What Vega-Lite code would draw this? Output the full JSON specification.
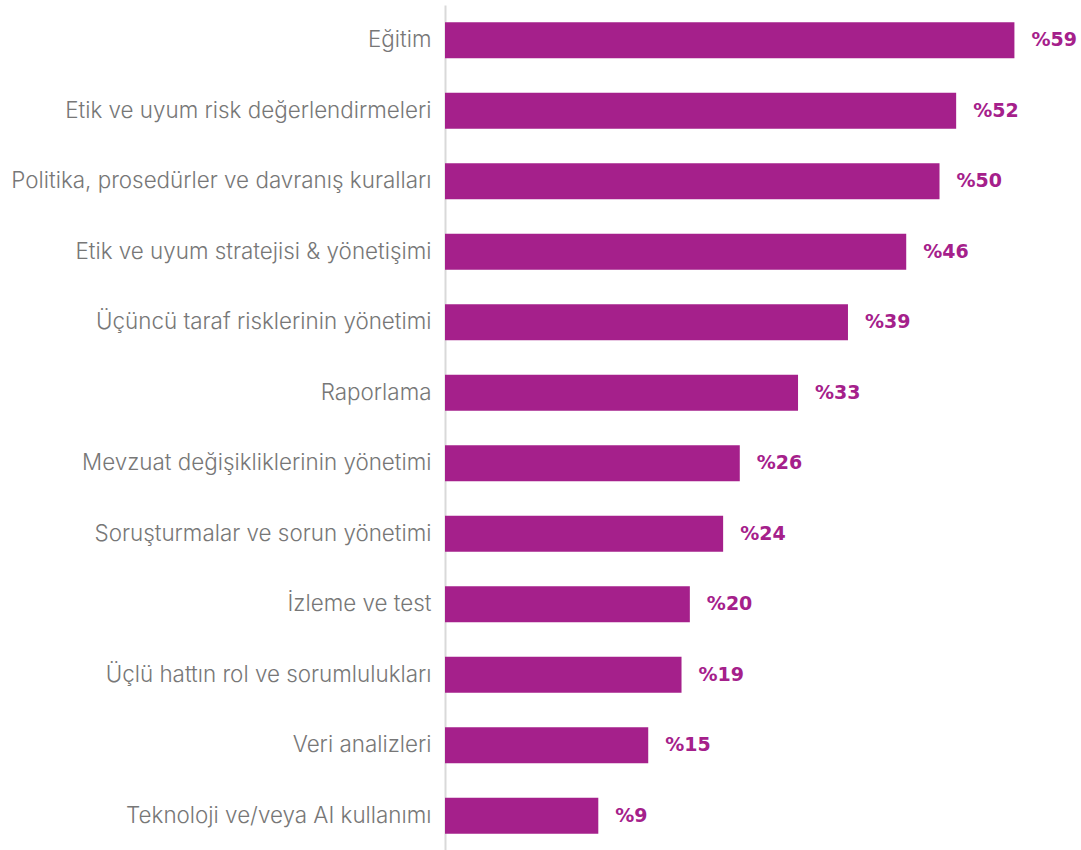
{
  "$schema": "https://vega.github.io/schema/vega-lite/v6.json",
  "width": 636,
  "height": 846,
  "autosize": "none",
  "padding": {"left": 445, "top": 5, "right": 0, "bottom": 0},
  "background": "white",
  "config": {"view": {"stroke": null}},
  "data": {
    "values": [
      {"kategori": "Eğitim", "oran": 59},
      {"kategori": "Etik ve uyum risk değerlendirmeleri", "oran": 52},
      {"kategori": "Politika, prosedürler ve davranış kuralları", "oran": 50},
      {"kategori": "Etik ve uyum stratejisi & yönetişimi", "oran": 46},
      {"kategori": "Üçüncü taraf risklerinin yönetimi", "oran": 39},
      {"kategori": "Raporlama", "oran": 33},
      {"kategori": "Mevzuat değişikliklerinin yönetimi", "oran": 26},
      {"kategori": "Soruşturmalar ve sorun yönetimi", "oran": 24},
      {"kategori": "İzleme ve test", "oran": 20},
      {"kategori": "Üçlü hattın rol ve sorumlulukları", "oran": 19},
      {"kategori": "Veri analizleri", "oran": 15},
      {"kategori": "Teknoloji ve/veya AI kullanımı", "oran": 9}
    ]
  },
  "encoding": {
    "y": {
      "field": "kategori",
      "type": "nominal",
      "sort": null,
      "scale": {"paddingInner": 0.49, "paddingOuter": 0.245},
      "axis": {
        "title": null,
        "ticks": false,
        "labelFont": "Inter",
        "labelFontWeight": 300,
        "labelFontSize": 22.4,
        "labelColor": "#777777",
        "labelPadding": 14,
        "labelLimit": 440,
        "domainColor": "#d9d9d9",
        "domainWidth": 2
      }
    }
  },
  "layer": [
    {
      "mark": {"type": "bar", "color": "#A5208B"},
      "encoding": {
        "x": {
          "field": "oran",
          "type": "quantitative",
          "scale": {"domain": [-9.42, 67.0], "zero": false, "nice": false},
          "axis": null
        },
        "x2": {"datum": -9.42}
      }
    },
    {
      "transform": [{"calculate": "'%' + datum.oran", "as": "etiket"}],
      "mark": {"type": "text", "align": "left", "dx": 17, "font": "DejaVu Sans", "fontWeight": "bold", "fontSize": 19, "color": "#A5208B"},
      "encoding": {
        "x": {"field": "oran", "type": "quantitative"},
        "text": {"field": "etiket", "type": "nominal"}
      }
    }
  ]
}
